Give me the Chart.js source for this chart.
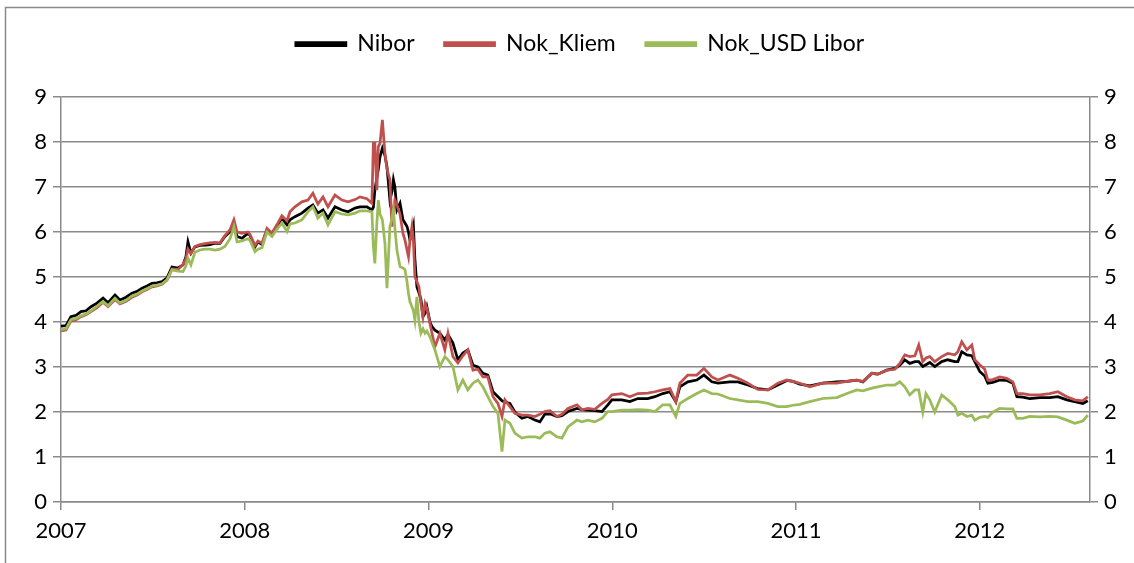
<!DOCTYPE html>
<html>
<head>
<meta charset="utf-8">
<script src="https://cdn.jsdelivr.net/npm/chart.js@4/dist/chart.umd.min.js"></script>
<style>
  body { margin: 0; background: #fff; }
  #rates { display: block; }
</style>
</head>
<body>
<canvas id="rates" width="1134" height="563"></canvas>
<script>
// dates as decimal years
var years = [
  2007.000, 2007.027, 2007.054, 2007.082, 2007.109, 2007.136, 2007.163, 2007.196, 2007.229, 2007.256,
  2007.294, 2007.321, 2007.354, 2007.386, 2007.414, 2007.441, 2007.468, 2007.495, 2007.522, 2007.550,
  2007.577, 2007.604, 2007.637, 2007.664, 2007.680, 2007.691, 2007.707, 2007.729, 2007.756, 2007.784,
  2007.811, 2007.838, 2007.865, 2007.892, 2007.920, 2007.941, 2007.958, 2007.985, 2008.017, 2008.028,
  2008.056, 2008.072, 2008.094, 2008.121, 2008.148, 2008.175, 2008.202, 2008.230, 2008.246, 2008.273,
  2008.311, 2008.344, 2008.371, 2008.398, 2008.426, 2008.453, 2008.491, 2008.529, 2008.562, 2008.600,
  2008.627, 2008.665, 2008.692, 2008.700, 2008.708, 2008.719, 2008.727, 2008.736, 2008.749, 2008.763,
  2008.774, 2008.790, 2008.801, 2008.809, 2008.817, 2008.828, 2008.845, 2008.861, 2008.872, 2008.883,
  2008.891, 2008.899, 2008.910, 2008.918, 2008.926, 2008.937, 2008.948, 2008.959, 2008.970, 2008.981,
  2008.991, 2009.008, 2009.019, 2009.035, 2009.062, 2009.089, 2009.106, 2009.133, 2009.160, 2009.187,
  2009.214, 2009.242, 2009.269, 2009.296, 2009.323, 2009.351, 2009.378, 2009.400, 2009.416, 2009.443,
  2009.470, 2009.508, 2009.541, 2009.579, 2009.606, 2009.633, 2009.661, 2009.699, 2009.726, 2009.759,
  2009.808, 2009.835, 2009.867, 2009.905, 2009.944, 2009.976, 2009.998, 2010.052, 2010.096, 2010.139,
  2010.193, 2010.232, 2010.275, 2010.314, 2010.346, 2010.368, 2010.411, 2010.460, 2010.499, 2010.542,
  2010.575, 2010.640, 2010.684, 2010.738, 2010.792, 2010.847, 2010.901, 2010.950, 2010.983, 2011.021,
  2011.075, 2011.146, 2011.222, 2011.277, 2011.331, 2011.364, 2011.413, 2011.445, 2011.494, 2011.538,
  2011.565, 2011.592, 2011.619, 2011.647, 2011.668, 2011.690, 2011.707, 2011.728, 2011.755, 2011.793,
  2011.826, 2011.864, 2011.881, 2011.902, 2011.930, 2011.957, 2011.973, 2012.000, 2012.027, 2012.044,
  2012.071, 2012.109, 2012.147, 2012.180, 2012.202, 2012.234, 2012.272, 2012.327, 2012.381, 2012.425,
  2012.474, 2012.517, 2012.561, 2012.588
];

var nibor = [
  3.91, 3.92, 4.12, 4.15, 4.23, 4.25, 4.34, 4.42, 4.53, 4.43,
  4.60, 4.49, 4.55, 4.64, 4.68, 4.75, 4.80, 4.86, 4.87, 4.90,
  4.98, 5.22, 5.20, 5.27, 5.45, 5.78, 5.53, 5.67, 5.70, 5.71,
  5.72, 5.75, 5.75, 5.90, 6.01, 6.16, 5.90, 5.86, 5.97, 5.93,
  5.67, 5.78, 5.72, 6.05, 5.93, 6.12, 6.30, 6.16, 6.27, 6.34,
  6.42, 6.53, 6.60, 6.42, 6.49, 6.31, 6.56, 6.49, 6.45, 6.53,
  6.56, 6.56, 6.49, 6.55, 6.93, 7.20, 7.40, 7.67, 7.86, 7.70,
  7.45, 6.71, 6.90, 7.16, 7.00, 6.49, 6.64, 6.27, 6.20, 6.12,
  6.00, 5.82, 5.95, 6.12, 5.40, 4.78, 4.65, 4.50, 4.12, 4.19,
  4.34, 4.00, 3.90, 3.82, 3.75, 3.60, 3.72, 3.53, 3.16, 3.31,
  3.38, 3.04, 3.00, 2.86, 2.82, 2.45, 2.34, 2.25, 2.22, 2.19,
  2.00, 1.86, 1.90, 1.82, 1.78, 1.95, 1.96, 1.90, 1.92, 2.01,
  2.08, 2.05, 2.04, 2.03, 2.01, 2.16, 2.27, 2.27, 2.23, 2.30,
  2.30, 2.34, 2.41, 2.45, 2.23, 2.56, 2.67, 2.71, 2.82, 2.67,
  2.64, 2.67, 2.67, 2.60, 2.52, 2.49, 2.60, 2.70, 2.68, 2.62,
  2.58, 2.64, 2.67, 2.68, 2.71, 2.67, 2.86, 2.84, 2.93, 2.97,
  3.04, 3.16, 3.08, 3.12, 3.12, 3.01, 3.05, 3.10, 3.01, 3.12,
  3.16, 3.12, 3.12, 3.34, 3.27, 3.25, 3.12, 2.90, 2.80, 2.64,
  2.66, 2.71, 2.70, 2.64, 2.34, 2.33, 2.30, 2.32, 2.32, 2.34,
  2.27, 2.23, 2.19, 2.25
];

var nokKliem = [
  3.80, 3.82, 4.02, 4.05, 4.12, 4.16, 4.23, 4.32, 4.44, 4.34,
  4.50, 4.40, 4.46, 4.55, 4.60, 4.67, 4.72, 4.78, 4.80, 4.84,
  4.93, 5.18, 5.17, 5.28, 5.40, 5.62, 5.52, 5.68, 5.72, 5.74,
  5.76, 5.77, 5.76, 5.92, 6.05, 6.27, 6.00, 5.97, 6.00, 5.95,
  5.70, 5.80, 5.75, 6.08, 5.98, 6.16, 6.36, 6.25, 6.45, 6.56,
  6.67, 6.71, 6.86, 6.62, 6.78, 6.56, 6.82, 6.71, 6.67, 6.72,
  6.78, 6.74, 6.64, 7.97, 7.97, 6.93, 7.90, 7.97, 8.49, 7.75,
  7.40, 7.16, 6.12, 6.50, 6.71, 6.60, 6.40, 5.97, 5.82, 5.60,
  5.45, 5.80, 6.12, 5.80, 5.00, 4.90, 4.78, 4.40, 4.12, 4.41,
  4.30, 3.97, 3.75, 3.45, 3.75, 3.38, 3.75, 3.23, 3.09, 3.25,
  3.38, 2.93, 2.95, 2.78, 2.78, 2.34, 2.19, 1.90, 2.27, 2.12,
  1.97, 1.93, 1.93, 1.90, 1.95, 2.01, 2.03, 1.90, 1.95, 2.08,
  2.16, 2.05, 2.08, 2.06, 2.19, 2.28, 2.38, 2.41, 2.34, 2.41,
  2.42, 2.45, 2.49, 2.52, 2.23, 2.64, 2.82, 2.82, 2.97, 2.78,
  2.71, 2.82, 2.75, 2.64, 2.50, 2.49, 2.64, 2.71, 2.68, 2.64,
  2.56, 2.64, 2.64, 2.68, 2.71, 2.68, 2.86, 2.84, 2.93, 2.95,
  3.08, 3.27, 3.23, 3.25, 3.49, 3.12, 3.20, 3.23, 3.12, 3.23,
  3.30, 3.27, 3.34, 3.56, 3.38, 3.49, 3.16, 3.05, 2.95, 2.71,
  2.72, 2.78, 2.75, 2.67, 2.41, 2.41, 2.38, 2.38, 2.41, 2.45,
  2.34, 2.27, 2.25, 2.34
];

var nokUsdLibor = [
  3.83, 3.85, 4.05, 4.08, 4.14, 4.18, 4.25, 4.35, 4.46, 4.36,
  4.53, 4.42, 4.48, 4.58, 4.62, 4.69, 4.74, 4.80, 4.82, 4.85,
  4.94, 5.16, 5.13, 5.12, 5.25, 5.42, 5.27, 5.55, 5.60, 5.62,
  5.62, 5.60, 5.62, 5.68, 5.85, 6.12, 5.78, 5.80, 5.85, 5.82,
  5.56, 5.62, 5.65, 6.00, 5.90, 6.06, 6.20, 6.01, 6.18, 6.20,
  6.27, 6.45, 6.56, 6.31, 6.42, 6.16, 6.45, 6.40, 6.38, 6.42,
  6.47, 6.47, 6.45, 5.67, 5.30, 6.20, 6.71, 6.40, 6.27, 5.75,
  4.75, 6.12, 6.30, 6.49, 6.10, 5.60, 5.23, 5.20, 5.16, 4.90,
  4.64, 4.45, 4.34, 4.25, 4.04, 4.56, 4.00, 3.75, 3.85, 3.75,
  3.80, 3.67, 3.55, 3.38, 3.01, 3.23, 3.16, 3.01, 2.49, 2.71,
  2.49, 2.64, 2.71, 2.56, 2.34, 2.12, 1.97, 1.12, 1.82, 1.75,
  1.53, 1.42, 1.45, 1.45, 1.42, 1.53, 1.56, 1.45, 1.42, 1.67,
  1.82, 1.78, 1.82, 1.78, 1.86, 2.01, 2.01, 2.04, 2.04, 2.05,
  2.04, 2.01, 2.16, 2.16, 1.90, 2.19, 2.30, 2.41, 2.49, 2.41,
  2.40, 2.30, 2.27, 2.23, 2.23, 2.19, 2.12, 2.12, 2.15, 2.17,
  2.23, 2.30, 2.32, 2.41, 2.49, 2.47, 2.53, 2.56, 2.60, 2.60,
  2.67, 2.56, 2.38, 2.49, 2.49, 2.00, 2.41, 2.27, 2.00, 2.38,
  2.27, 2.12, 1.93, 1.97, 1.90, 1.93, 1.82, 1.88, 1.90, 1.88,
  2.00, 2.08, 2.07, 2.07, 1.86, 1.86, 1.90, 1.89, 1.90, 1.89,
  1.82, 1.75, 1.80, 1.93
];

var yearTicks = [2007, 2008, 2009, 2010, 2011, 2012];

function points(values) {
  return years.map(function (x, i) { return { x: x, y: values[i] }; });
}

var gridGray = "#8a8a8a";
var tickFont = { family: "Lato", size: 22 };
var legendFont = { family: "Lato", size: 23 };

// grey frame of the chart object, legend nudged right like the original
var framePlugin = {
  id: "frame",
  afterLayout: function (chart) {
    chart.legend.left += 26;
  },
  beforeDraw: function (chart) {
    var c = chart.ctx;
    c.save();
    c.strokeStyle = "#8a8a8a";
    c.lineWidth = 1.5;
    c.strokeRect(5.5, 7.5, 2000, 2000);
    c.restore();
  }
};

var ctx = document.getElementById("rates").getContext("2d");
var chart = new Chart(ctx, {
  type: "line",
  data: {
    datasets: [
      {
        label: "Nibor",
        data: points(nibor),
        borderColor: "#000000",
        backgroundColor: "#000000",
        order: 3
      },
      {
        label: "Nok_Kliem",
        data: points(nokKliem),
        borderColor: "#c0504d",
        backgroundColor: "#c0504d",
        order: 2
      },
      {
        label: "Nok_USD Libor",
        data: points(nokUsdLibor),
        borderColor: "#9bbb59",
        backgroundColor: "#9bbb59",
        order: 1
      }
    ]
  },
  options: {
    responsive: false,
    animation: false,
    events: [],
    layout: { padding: { top: 2.5, left: 0, right: 0, bottom: 0 } },
    elements: {
      point: { radius: 0 },
      line: { borderWidth: 2.75, tension: 0 }
    },
    plugins: {
      legend: {
        position: "top",
        labels: {
          font: legendFont,
          color: "#000",
          boxWidth: 50,
          boxHeight: 3,
          padding: 30,
          sort: function (a, b) { return a.datasetIndex - b.datasetIndex; }
        }
      },
      subtitle: {
        display: true,
        text: "",
        position: "top",
        weight: 500,
        font: { size: 10, lineHeight: 1 },
        padding: { top: 21.5, bottom: 0 }
      },
      tooltip: { enabled: false }
    },
    scales: {
      x: {
        type: "linear",
        min: 2007,
        max: 2012.6,
        afterBuildTicks: function (scale) {
          scale.ticks = yearTicks.map(function (v) { return { value: v }; });
        },
        afterFit: function (scale) { scale.height = 61; },
        grid: { drawOnChartArea: false, drawTicks: true, tickLength: 8, color: gridGray, lineWidth: 1.5 },
        border: { color: gridGray, width: 1.5 },
        ticks: {
          font: tickFont,
          color: "#000",
          padding: 8,
          maxRotation: 0,
          callback: function (v) { return String(v); }
        }
      },
      y: {
        position: "left",
        min: 0,
        max: 9,
        afterFit: function (scale) { scale.width = 61; },
        grid: { color: gridGray, lineWidth: 1.5, tickLength: 8 },
        border: { color: gridGray, width: 1.5 },
        ticks: { stepSize: 1, font: tickFont, color: "#000", padding: 6 }
      },
      y2: {
        position: "right",
        min: 0,
        max: 9,
        afterFit: function (scale) { scale.width = 44; },
        grid: { drawOnChartArea: false, color: gridGray, lineWidth: 1.5, tickLength: 8 },
        border: { color: gridGray, width: 1.5 },
        ticks: { stepSize: 1, font: tickFont, color: "#000", padding: 6 }
      }
    }
  },
  plugins: [framePlugin]
});
</script>
</body>
</html>
